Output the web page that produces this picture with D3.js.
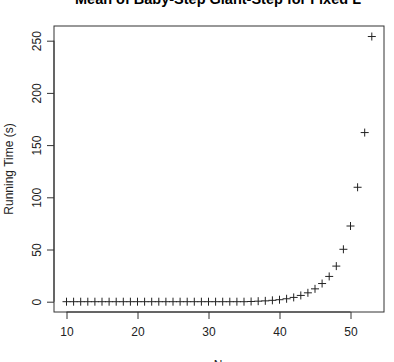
<!DOCTYPE html>
<html>
<head>
<meta charset="utf-8">
<script src="https://cdn.jsdelivr.net/npm/d3@7"></script>
<style>
  body { margin: 0; background: #fff; }
  svg { display: block; font-family: "Liberation Sans", Arial, sans-serif; }
</style>
</head>
<body>
<script>
const nValues = d3.range(10, 54); // N = 10..53
const runTimes = [
  0, 0, 0, 0, 0, 0, 0, 0, 0, 0,
  0, 0, 0, 0, 0, 0, 0, 0, 0, 0,
  0, 0, 0, 0, 0, 0, 0.2, 0.5, 0.8, 1.3,
  1.9, 2.8, 4.1, 6.0, 8.5, 12.3, 17.4, 24.2, 34.1, 50.2,
  72.5, 109.6, 162, 254
];
const xTicks = [10, 20, 30, 40, 50];
const yTicks = [0, 50, 100, 150, 200, 250];

const width = 394, height = 362;
const box = {left: 54, right: 384, top: 26, bottom: 312};

const x = d3.scaleLinear().domain([10, 50]).range([66.5, 350.5]);
const y = d3.scaleLinear().domain([0, 250]).range([301.7, 40.7]);

const svg = d3.select("body").append("svg")
  .attr("width", width)
  .attr("height", height);

// title (cut off at the top, as in the original)
svg.append("text")
  .attr("x", 218)
  .attr("y", 4)
  .attr("text-anchor", "middle")
  .style("font-size", "14.5px")
  .style("font-weight", "bold")
  .text("Mean of Baby-Step Giant-Step for Fixed L");

// plot box
svg.append("rect")
  .attr("x", box.left)
  .attr("y", box.top)
  .attr("width", box.right - box.left)
  .attr("height", box.bottom - box.top)
  .attr("fill", "none")
  .attr("stroke", "#333");

// x axis
const xAxis = svg.append("g")
  .attr("transform", "translate(0," + box.bottom + ")")
  .call(d3.axisBottom(x).tickValues(xTicks).tickSize(7).tickPadding(8).tickSizeOuter(0));
xAxis.select(".domain").attr("d", "M" + x(10) + ",0H" + x(50)).attr("stroke", "#333");
xAxis.selectAll(".tick line").attr("stroke", "#333");
xAxis.selectAll("text").style("font-size", "12px").attr("fill", "#222")
  .style("font-family", "Liberation Sans, Arial, sans-serif");

// y axis
const yAxis = svg.append("g")
  .attr("transform", "translate(" + box.left + ",0)")
  .call(d3.axisLeft(y).tickValues(yTicks).tickSize(7).tickSizeOuter(0));
yAxis.select(".domain").attr("d", "M0," + y(0) + "V" + y(250)).attr("stroke", "#333");
yAxis.selectAll(".tick line").attr("stroke", "#333");
yAxis.selectAll("text")
  .attr("x", null)
  .attr("text-anchor", "middle")
  .attr("transform", "translate(-17,0) rotate(-90)")
  .attr("y", 0)
  .attr("dy", "0.35em")
  .style("font-size", "12px").attr("fill", "#222")
  .style("font-family", "Liberation Sans, Arial, sans-serif");

// axis labels
svg.append("text")
  .attr("x", 218)
  .attr("y", 369)
  .attr("text-anchor", "middle")
  .style("font-size", "12px")
  .attr("fill", "#222")
  .text("N");

svg.append("text")
  .attr("transform", "translate(9," + ((box.top + box.bottom) / 2) + ") rotate(-90)")
  .attr("text-anchor", "middle")
  .attr("dy", "0.35em")
  .style("font-size", "12px")
  .attr("fill", "#222")
  .text("Running Time (s)");

// points as plus signs
const r = 4;
svg.append("g").selectAll("path")
  .data(nValues.map((n, i) => [n, runTimes[i]]))
  .enter().append("path")
  .attr("d", d => {
    const cx = x(d[0]), cy = y(d[1]);
    return "M" + (cx - r) + "," + cy + "H" + (cx + r) + "M" + cx + "," + (cy - r) + "V" + (cy + r);
  })
  .attr("stroke", "#222")
  .attr("stroke-width", 1)
  .attr("fill", "none");
</script>
</body>
</html>
